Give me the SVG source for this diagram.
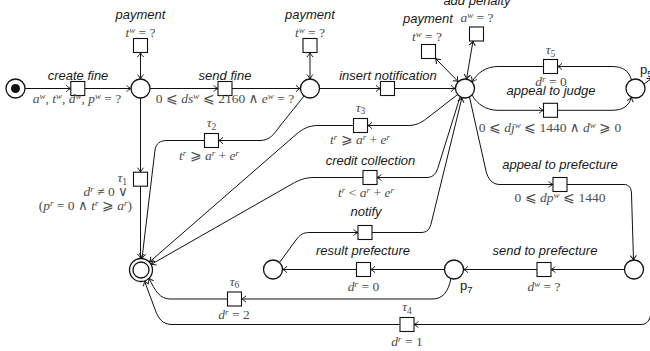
<svg xmlns="http://www.w3.org/2000/svg" width="650" height="351" viewBox="0 0 650 351">
  <defs>
    <style>
      .pl { fill: #fff; stroke: #111; stroke-width: 1.3; }
      .tr { fill: #fff; stroke: #111; stroke-width: 1.1; }
      .e { fill: none; stroke: #111; stroke-width: 1; marker-end: url(#ah); }
      .e2 { marker-start: url(#ah); }
      .l { font-family: "Liberation Sans", Arial, sans-serif; font-size: 13px; font-style: italic; fill: #1a1a1a; }
      .n { font-family: "Liberation Sans", Arial, sans-serif; font-size: 13px; fill: #1a1a1a; }
      .m { font-family: "Liberation Serif", "Times New Roman", "DejaVu Serif", serif; font-size: 13.5px; fill: #4d4d4d; }
      .i { font-style: italic; }
      .s { font-size: 9px; font-style: italic; }
      .d { font-size: 9.5px; }
    </style>
    <marker id="ah" viewBox="-6 -4 7 8" refX="0" refY="0" markerWidth="7" markerHeight="8" markerUnits="userSpaceOnUse" orient="auto-start-reverse">
      <path d="M-4.5,-3.2 C-3,-1.5 -1,-0.4 0,0 C-1,0.4 -3,1.5 -4.5,3.2" fill="none" stroke="#111" stroke-width="1"/>
    </marker>
  </defs>

  <!-- arcs of the net -->
  <g id="connectors">
    <path class="e" d="M25,88.5 H70.8"/>
    <path class="e" d="M84.8,88.5 H131"/>
    <path class="e" d="M150,88.5 H218"/>
    <path class="e" d="M232,88.5 H300.5"/>
    <path class="e" d="M319.5,88.5 H380.5"/>
    <path class="e" d="M394.5,88.5 H455.5"/>
    <path class="e e2" d="M140.5,52.5 V79"/>
    <path class="e e2" d="M310,52.5 V79"/>
    <path class="e e2" d="M435.5,58.5 L458.3,81.7"/>
    <path class="e e2" d="M473,41 L466.5,79.1"/>
    <!-- judge loop -->
    <path class="e" d="M631.5,80 C629,71 623,66.5 612,66.5 L557.5,66.5"/>
    <path class="e" d="M543.5,66.5 L498,66.5 C486,66.5 477,73 472,82"/>
    <path class="e" d="M472,95 C477,104 486,110.3 498,110.3 L543.5,110.3"/>
    <path class="e" d="M557.5,110.3 L612,110.3 C623,110.3 629,106 631.5,97"/>
    <path class="e" d="M644,84 L652,78"/>
    <!-- branches from the central place -->
    <path class="e" d="M457,95 L428,117.5 C421,123 416,125.5 408,125.5 L367.5,125.5"/>
    <path class="e" d="M353.5,125.5 L318,125.5 C309,125.5 303,128.5 296,134.5 L149.5,262"/>
    <path class="e" d="M460,97 L438.5,166 C436.5,173 433.5,177.5 427,177.5 L377,177.5"/>
    <path class="e" d="M363,177.5 L314,177.5 C305,177.5 299,180 292,184 L151,264.5"/>
    <path class="e" d="M372,232.5 L421,232.5 C427,232.5 430,229.5 431.5,222 L462,97.5"/>
    <path class="e" d="M279.5,262.5 L296,240 C300,234.5 303,232.5 310,232.5 L358,232.5"/>
    <path class="e" d="M469.5,97 L486,171 C488,179 492,184.5 500,184.5 L553,184.5"/>
    <path class="e" d="M567,184.5 L624,184.5 C629,184.5 631.5,188 631.5,194 L633.5,260"/>
    <!-- prefecture row -->
    <path class="e" d="M624.5,269.5 H551"/>
    <path class="e" d="M537,269.5 H463.5"/>
    <path class="e" d="M444.5,269.5 H370.5"/>
    <path class="e" d="M356.5,269.5 H282.5"/>
    <!-- early closing paths -->
    <path class="e" d="M140.5,98 V172.2"/>
    <path class="e" d="M140.5,186.2 V258.5"/>
    <path class="e" d="M304,96 L280,126 C274,134 270,140.5 260,140.5 L218.5,140.5"/>
    <path class="e" d="M204.5,140.5 L167,140.5 C160,140.5 156,143.5 155,150 L142,258.5"/>
    <path class="e" d="M451,278.5 C448,292 443,299 432,299 L241.5,299"/>
    <path class="e" d="M227.5,299 L170,299 C160,299 155,291 149,278"/>
    <path class="e" d="M651,310 C651,320 647,324.5 641,324.5 L414,324.5"/>
    <path class="e" d="M400,324.5 L172,324.5 C163,324.5 159,319 156,312 L144.5,281"/>
  </g>

  <!-- places -->
  <g id="start">
    <circle class="pl" cx="15.5" cy="88.5" r="9.5"/>
    <circle cx="15.5" cy="88.5" r="4.5" fill="#111"/>
  </g>
  <g id="p1"><circle class="pl" cx="140.5" cy="88.5" r="9.5"/></g>
  <g id="p2"><circle class="pl" cx="310" cy="88.5" r="9.5"/></g>
  <g id="p3"><circle class="pl" cx="465" cy="88.5" r="9.5"/></g>
  <g id="p5">
    <circle class="pl" cx="635.5" cy="88.5" r="9.5"/>
    <text class="n" x="640" y="73.5">p<tspan class="d" dy="3">5</tspan></text>
  </g>
  <g id="p6"><circle class="pl" cx="634" cy="269.5" r="9.5"/></g>
  <g id="p7">
    <circle class="pl" cx="454" cy="269.5" r="9.5"/>
    <text class="n" x="460" y="289.5">p<tspan class="d" dy="3">7</tspan></text>
  </g>
  <g id="p8"><circle class="pl" cx="273" cy="269.5" r="9.5"/></g>
  <g id="end">
    <circle class="pl" cx="141" cy="270" r="11.5"/>
    <circle class="pl" cx="141" cy="270" r="8"/>
  </g>

  <!-- transitions -->
  <g id="create-fine">
    <rect class="tr" x="70.8" y="81.5" width="14" height="14"/>
    <text class="l" x="78" y="79.5" text-anchor="middle">create fine</text>
    <text class="m" x="77" y="103" text-anchor="middle"><tspan class="i">a</tspan><tspan class="s" dy="-4">w</tspan><tspan dy="4">, </tspan><tspan class="i">t</tspan><tspan class="s" dy="-4">w</tspan><tspan dy="4">, </tspan><tspan class="i">d</tspan><tspan class="s" dy="-4">w</tspan><tspan dy="4">, </tspan><tspan class="i">p</tspan><tspan class="s" dy="-4">w</tspan><tspan dy="4"> = ?</tspan></text>
  </g>
  <g id="payment-1">
    <rect class="tr" x="133.5" y="38.5" width="14" height="14"/>
    <text class="l" x="140.5" y="19" text-anchor="middle">payment</text>
    <text class="m" x="140.5" y="36.5" text-anchor="middle"><tspan class="i">t</tspan><tspan class="s" dy="-4">w</tspan><tspan dy="4"> = ?</tspan></text>
  </g>
  <g id="send-fine">
    <rect class="tr" x="218" y="81.5" width="14" height="14"/>
    <text class="l" x="225" y="79.5" text-anchor="middle">send fine</text>
    <text class="m" x="225" y="103" text-anchor="middle">0 ⩽ <tspan class="i">ds</tspan><tspan class="s" dy="-4">w</tspan><tspan dy="4"> ⩽ 2160 ∧ </tspan><tspan class="i">e</tspan><tspan class="s" dy="-4">w</tspan><tspan dy="4"> = ?</tspan></text>
  </g>
  <g id="payment-2">
    <rect class="tr" x="303" y="38.5" width="14" height="14"/>
    <text class="l" x="310" y="19" text-anchor="middle">payment</text>
    <text class="m" x="310" y="36.5" text-anchor="middle"><tspan class="i">t</tspan><tspan class="s" dy="-4">w</tspan><tspan dy="4"> = ?</tspan></text>
  </g>
  <g id="insert-notification">
    <rect class="tr" x="380.5" y="81.5" width="14" height="14"/>
    <text class="l" x="388" y="79.5" text-anchor="middle">insert notification</text>
  </g>
  <g id="payment-3">
    <rect class="tr" x="421.5" y="44.5" width="14" height="14"/>
    <text class="l" x="428" y="23" text-anchor="middle">payment</text>
    <text class="m" x="427" y="41" text-anchor="middle"><tspan class="i">t</tspan><tspan class="s" dy="-4">w</tspan><tspan dy="4"> = ?</tspan></text>
  </g>
  <g id="add-penalty">
    <rect class="tr" x="469.5" y="27" width="14" height="14"/>
    <text class="l" x="477" y="4.5" text-anchor="middle">add penalty</text>
    <text class="m" x="477" y="22" text-anchor="middle"><tspan class="i">a</tspan><tspan class="s" dy="-4">w</tspan><tspan dy="4"> = ?</tspan></text>
  </g>
  <g id="tau5">
    <rect class="tr" x="543.5" y="59.5" width="14" height="14"/>
    <text class="m" x="550.5" y="54" text-anchor="middle"><tspan class="i">τ</tspan><tspan class="d" dy="2.5">5</tspan></text>
    <text class="m" x="551" y="86" text-anchor="middle"><tspan class="i">d</tspan><tspan class="s" dy="-4">r</tspan><tspan dy="4"> = 0</tspan></text>
  </g>
  <g id="appeal-to-judge">
    <rect class="tr" x="543.5" y="103.3" width="14" height="14"/>
    <text class="l" x="551" y="95" text-anchor="middle">appeal to judge</text>
    <text class="m" x="550" y="131.5" text-anchor="middle">0 ⩽ <tspan class="i">dj</tspan><tspan class="s" dy="-4">w</tspan><tspan dy="4"> ⩽ 1440 ∧ </tspan><tspan class="i">d</tspan><tspan class="s" dy="-4">w</tspan><tspan dy="4"> ⩾ 0</tspan></text>
  </g>
  <g id="tau3">
    <rect class="tr" x="353.5" y="118.5" width="14" height="14"/>
    <text class="m" x="360.5" y="111.5" text-anchor="middle"><tspan class="i">τ</tspan><tspan class="d" dy="2.5">3</tspan></text>
    <text class="m" x="360" y="144" text-anchor="middle"><tspan class="i">t</tspan><tspan class="s" dy="-4">r</tspan><tspan dy="4"> ⩾ </tspan><tspan class="i">a</tspan><tspan class="s" dy="-4">r</tspan><tspan dy="4"> + </tspan><tspan class="i">e</tspan><tspan class="s" dy="-4">r</tspan></text>
  </g>
  <g id="tau2">
    <rect class="tr" x="204.5" y="133.5" width="14" height="14"/>
    <text class="m" x="211.5" y="127" text-anchor="middle"><tspan class="i">τ</tspan><tspan class="d" dy="2.5">2</tspan></text>
    <text class="m" x="209" y="159.5" text-anchor="middle"><tspan class="i">t</tspan><tspan class="s" dy="-4">r</tspan><tspan dy="4"> ⩾ </tspan><tspan class="i">a</tspan><tspan class="s" dy="-4">r</tspan><tspan dy="4"> + </tspan><tspan class="i">e</tspan><tspan class="s" dy="-4">r</tspan></text>
  </g>
  <g id="credit-collection">
    <rect class="tr" x="363" y="170.5" width="14" height="14"/>
    <text class="l" x="370.5" y="165" text-anchor="middle">credit collection</text>
    <text class="m" x="366" y="196.5" text-anchor="middle"><tspan class="i">t</tspan><tspan class="s" dy="-4">r</tspan><tspan dy="4"> &lt; </tspan><tspan class="i">a</tspan><tspan class="s" dy="-4">r</tspan><tspan dy="4"> + </tspan><tspan class="i">e</tspan><tspan class="s" dy="-4">r</tspan></text>
  </g>
  <g id="appeal-to-prefecture">
    <rect class="tr" x="553" y="177.5" width="14" height="14"/>
    <text class="l" x="560" y="169" text-anchor="middle">appeal to prefecture</text>
    <text class="m" x="560" y="202" text-anchor="middle">0 ⩽ <tspan class="i">dp</tspan><tspan class="s" dy="-4">w</tspan><tspan dy="4"> ⩽ 1440</tspan></text>
  </g>
  <g id="send-to-prefecture">
    <rect class="tr" x="537" y="262.5" width="14" height="14"/>
    <text class="l" x="545" y="255" text-anchor="middle">send to prefecture</text>
    <text class="m" x="544" y="290.5" text-anchor="middle"><tspan class="i">d</tspan><tspan class="s" dy="-4">w</tspan><tspan dy="4"> = ?</tspan></text>
  </g>
  <g id="result-prefecture">
    <rect class="tr" x="356.5" y="262.5" width="14" height="14"/>
    <text class="l" x="363" y="255" text-anchor="middle">result prefecture</text>
    <text class="m" x="363.5" y="290.5" text-anchor="middle"><tspan class="i">d</tspan><tspan class="s" dy="-4">r</tspan><tspan dy="4"> = 0</tspan></text>
  </g>
  <g id="notify">
    <rect class="tr" x="358" y="225.5" width="14" height="14"/>
    <text class="l" x="366" y="216" text-anchor="middle">notify</text>
  </g>
  <g id="tau1">
    <rect class="tr" x="133.5" y="172.2" width="14" height="14"/>
    <text class="m" x="127" y="182" text-anchor="end"><tspan class="i">τ</tspan><tspan class="d" dy="2.5">1</tspan></text>
    <text class="m" x="128" y="196" text-anchor="end"><tspan class="i">d</tspan><tspan class="s" dy="-4">r</tspan><tspan dy="4"> ≠ 0 ∨</tspan></text>
    <text class="m" x="132" y="209.5" text-anchor="end">(<tspan class="i">p</tspan><tspan class="s" dy="-4">r</tspan><tspan dy="4"> = 0 ∧ </tspan><tspan class="i">t</tspan><tspan class="s" dy="-4">r</tspan><tspan dy="4"> ⩾ </tspan><tspan class="i">a</tspan><tspan class="s" dy="-4">r</tspan><tspan dy="4">)</tspan></text>
  </g>
  <g id="tau6">
    <rect class="tr" x="227.5" y="292" width="14" height="14"/>
    <text class="m" x="234.5" y="285.5" text-anchor="middle"><tspan class="i">τ</tspan><tspan class="d" dy="2.5">6</tspan></text>
    <text class="m" x="234" y="318.5" text-anchor="middle"><tspan class="i">d</tspan><tspan class="s" dy="-4">r</tspan><tspan dy="4"> = 2</tspan></text>
  </g>
  <g id="tau4">
    <rect class="tr" x="400" y="317.5" width="14" height="14"/>
    <text class="m" x="407" y="311" text-anchor="middle"><tspan class="i">τ</tspan><tspan class="d" dy="2.5">4</tspan></text>
    <text class="m" x="407" y="345.5" text-anchor="middle"><tspan class="i">d</tspan><tspan class="s" dy="-4">r</tspan><tspan dy="4"> = 1</tspan></text>
  </g>
</svg>
